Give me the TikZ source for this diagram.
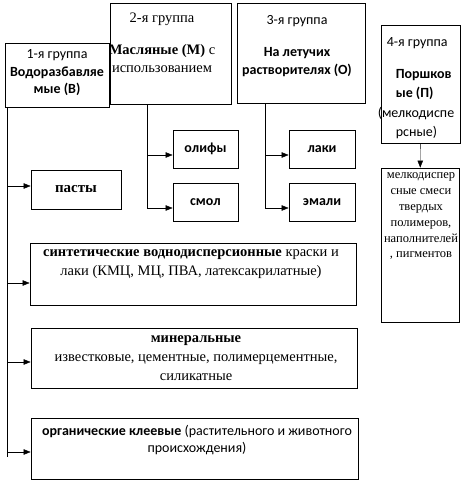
\documentclass[tikz,border=0pt]{standalone}
\usepackage{fontspec}
\setmainfont{Liberation Serif}
\newfontfamily\calfont{Carlito}
\usetikzlibrary{arrows.meta,positioning}

\begin{document}
\begin{tikzpicture}[x=1pt, y=-1pt, >={Triangle[length=7pt,width=5.5pt]},
	   box/.style={draw, line width=0.8pt, inner sep=0pt},
	   txt/.style={align=center, inner sep=0pt, font=\fontsize{14.5}{17.5}\selectfont},
	   stxt/.style={align=center, inner sep=0pt, font=\calfont\fontsize{14}{17.5}\selectfont},
	   leaf/.style={box, minimum width=65pt, minimum height=38pt, font=\calfont\bfseries\fontsize{14}{15}\selectfont}]
	  \useasboundingbox (0,0) rectangle (470,483);
	  % the four groups
	  \node[box, minimum width=104pt, minimum height=64pt] (water) at (57,75) {};
	  \node[stxt] (waterT) at (57,73) {1-я группа\\\textbf{Водоразбавляе}\\\textbf{мые (В)}};
	  \node[box, minimum width=121pt, minimum height=101pt] (oily) at (170.5,53.5) {};
	  \node[txt] (oilyT) at (162,43) {2-я группа\\[14.5pt]\textbf{Масляные (М)} с\\использованием};
	  \node[box, minimum width=128pt, minimum height=100pt] (volat) at (301,53) {};
	  \node[stxt] (volatT) at (297,46) {3-я группа\\[15pt]\textbf{На летучих}\\\textbf{растворителях (О)}};
	  \node[box, minimum width=79pt, minimum height=118pt] (powder) at (420.5,84) {};
	  \node[stxt, align=left, font=\calfont\fontsize{14}{19.5}\selectfont] (powderT) at (425,88)
	    {\hspace*{-9pt}4-я группа\\[12.5pt]\textbf{Поршков}\\\textbf{ые (П)}\\\hspace*{-18pt}(мелкодиспе\\рсные)};
	  \node[box, minimum width=78pt, minimum height=154pt] (mix) at (420,245) {};
	  \node[txt, font=\fontsize{12.5}{15.8}\selectfont] (mixT) at (421,216.5)
	    {мелкодиспер\\сные смеси\\твердых\\полимеров,\\наполнителей\\, пигментов};
	  \draw[->] (powder) -- (mix);
	  % kinds
	  \node[leaf] (drying) at (205.5,149) {олифы};
	  \node[leaf] (resin) at (205.5,202) {смол};
	  \node[leaf, minimum width=66pt] (lacq) at (322,149) {лаки};
	  \node[leaf, minimum width=66pt] (enamel) at (322,202) {эмали};
	  \node[box, minimum width=90pt, minimum height=39pt, font=\bfseries\fontsize{15}{15}\selectfont] (paste) at (76,189.5) {пасты};
	  \node[box, minimum width=326pt, minimum height=62pt] (syn) at (193,274) {};
	  \node[txt, font=\fontsize{14.5}{19}\selectfont] (synT) at (191,264.5) {\textbf{синтетические воднодисперсионные} краски и\\лаки (КМЦ, МЦ, ПВА, латексакрилатные)};
	  \node[box, minimum width=326pt, minimum height=60pt] (mineral) at (194,358) {};
	  \node[txt, font=\fontsize{14.5}{19}\selectfont] (mineralT) at (196,358) {\textbf{минеральные}\\известковые, цементные, полимерцементные,\\силикатные};
	  \node[box, minimum width=327pt, minimum height=61pt] (org) at (194.5,448.5) {};
	  \node[stxt] (orgT) at (197,440) {\textbf{органические клеевые} (растительного и животного\\происхождения)};
	  % connectors
	  \coordinate (trunk) at ([xshift=-50pt]water.south);
	  \coordinate (trunkend) at (7,457);
	  \draw (trunk) -- (trunkend);
	  \foreach \b/\s in {paste/3.5,syn/-9,mineral/-4,org/-3.5}
	    \draw[->] ([yshift=\s pt]\b.west -| trunk) -- ([yshift=\s pt]\b.west);
	  \coordinate (mspine) at ([xshift=-23.5pt]oily.south);
	  \draw[->] (mspine) |- ([yshift=-6pt]resin.west);
	  \draw[->] ([yshift=-6pt]drying.west -| mspine) -- ([yshift=-6pt]drying.west);
	  \coordinate (ospine) at ([xshift=-36pt]volat.south);
	  \draw[->] (ospine) |- ([yshift=-6pt]enamel.west);
	  \draw[->] ([yshift=-6pt]lacq.west -| ospine) -- ([yshift=-6pt]lacq.west);
	\end{tikzpicture}
\end{document}
